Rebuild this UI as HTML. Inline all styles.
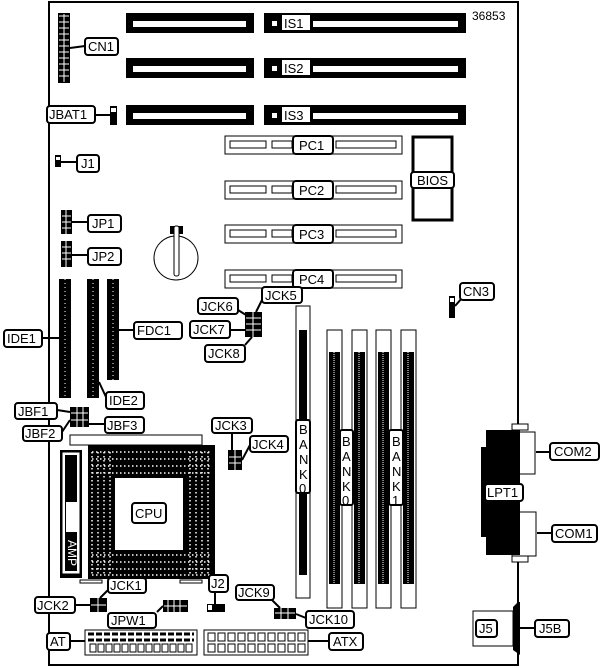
<!DOCTYPE html>
<html><head><meta charset="utf-8"><style>
html,body{margin:0;padding:0;background:#fff}
svg{display:block}
text{font-family:"Liberation Sans",sans-serif;font-size:13px;fill:#000}
.l{fill:#fff;stroke:#000;stroke-width:2}
.k{fill:#000}
.w{fill:#fff;stroke:#000;stroke-width:1}
.ln{stroke:#000;stroke-width:2;fill:none}
</style></head><body>
<svg width="604" height="668" viewBox="0 0 604 668" xmlns="http://www.w3.org/2000/svg">
<rect x="49" y="2" width="469" height="663" fill="none" stroke="#000" stroke-width="2"/>
<text x="472" y="20" style="font-size:12px">36853</text>

<!-- ISA slots -->
<g>
<rect class="k" x="126" y="13" width="128" height="20"/><rect fill="#fff" x="133" y="21" width="113" height="6"/>
<rect class="k" x="264" y="13" width="202" height="20"/><rect fill="#fff" x="272" y="21" width="5" height="5"/><rect fill="#fff" x="282" y="15" width="28" height="15"/><rect fill="#fff" x="313" y="21" width="145" height="6"/><text x="284" y="28">IS1</text>
<rect class="k" x="126" y="58" width="128" height="20"/><rect fill="#fff" x="133" y="66" width="113" height="6"/>
<rect class="k" x="264" y="58" width="202" height="20"/><rect fill="#fff" x="272" y="66" width="5" height="5"/><rect fill="#fff" x="282" y="60" width="28" height="15"/><rect fill="#fff" x="313" y="66" width="145" height="6"/><text x="284" y="73">IS2</text>
<rect class="k" x="126" y="105" width="128" height="20"/><rect fill="#fff" x="133" y="113" width="113" height="6"/>
<rect class="k" x="264" y="105" width="202" height="20"/><rect fill="#fff" x="272" y="113" width="5" height="5"/><rect fill="#fff" x="282" y="107" width="28" height="15"/><rect fill="#fff" x="313" y="113" width="145" height="6"/><text x="284" y="120">IS3</text>
</g>

<!-- PCI -->
<g>
<rect class="w" x="225" y="136" width="177" height="18"/><rect class="w" x="230" y="141" width="36" height="7"/><rect class="w" x="272" y="141" width="20" height="7"/><rect class="w" x="336" y="141" width="60" height="7"/><rect class="l" x="293" y="136" width="40" height="18" rx="3"/><text x="299" y="150">PC1</text>
<rect class="w" x="225" y="181" width="177" height="18"/><rect class="w" x="230" y="186" width="36" height="7"/><rect class="w" x="272" y="186" width="20" height="7"/><rect class="w" x="336" y="186" width="60" height="7"/><rect class="l" x="293" y="181" width="40" height="18" rx="3"/><text x="299" y="195">PC2</text>
<rect class="w" x="225" y="225" width="177" height="18"/><rect class="w" x="230" y="230" width="36" height="7"/><rect class="w" x="272" y="230" width="20" height="7"/><rect class="w" x="336" y="230" width="60" height="7"/><rect class="l" x="293" y="225" width="40" height="18" rx="3"/><text x="299" y="239">PC3</text>
<rect class="w" x="225" y="270" width="177" height="18"/><rect class="w" x="230" y="275" width="36" height="7"/><rect class="w" x="272" y="275" width="20" height="7"/><rect class="w" x="336" y="275" width="60" height="7"/><rect class="l" x="293" y="270" width="40" height="18" rx="3"/><text x="299" y="284">PC4</text>
</g>

<!-- BIOS -->
<rect x="413" y="137" width="39" height="83" fill="#fff" stroke="#000" stroke-width="3"/>
<rect class="l" x="411" y="172" width="43" height="16" rx="3"/><text x="417" y="185">BIOS</text>

<!-- CN1 -->
<rect class="k" x="58" y="13" width="12" height="70"/>
<path d="M59 16h10M59 22h10M59 28h10M59 34h10M59 40h10M59 46h10M59 52h10M59 58h10M59 64h10M59 70h10M59 76h10M64 14v68" stroke="#fff" stroke-width="1"/>
<path class="ln" d="M70 48 L85 46"/><rect class="l" x="85" y="38" width="33" height="17" rx="3"/><text x="88" y="51">CN1</text>
<!-- JBAT1 -->
<rect class="k" x="110" y="106" width="7" height="19"/><rect fill="#fff" x="111" y="108" width="5" height="4"/>
<path class="ln" d="M95 115 L110 115"/><rect class="l" x="47" y="106" width="48" height="17" rx="3"/><text x="49" y="119">JBAT1</text>
<!-- J1 -->
<rect class="k" x="55" y="155" width="6" height="12"/><rect fill="#fff" x="56" y="157" width="4" height="3"/>
<path class="ln" d="M61 162 L77 162"/><rect class="l" x="77" y="155" width="22" height="17" rx="3"/><text x="81" y="168">J1</text>
<!-- JP1/JP2 -->
<rect class="k" x="61" y="210" width="11" height="24"/><rect class="k" x="61" y="241" width="11" height="26"/>
<path d="M66 210v57M62 216h9M62 222h9M62 228h9M62 247h9M62 253h9M62 259h9" stroke="#fff" stroke-width="1"/>
<path class="ln" d="M72 222 L88 222 M72 255 L88 255"/>
<rect class="l" x="88" y="215" width="33" height="17" rx="3"/><text x="92" y="228">JP1</text>
<rect class="l" x="88" y="248" width="33" height="17" rx="3"/><text x="92" y="261">JP2</text>
<!-- battery -->
<circle cx="176" cy="258" r="22" fill="#fff" stroke="#000" stroke-width="1"/>
<rect class="k" x="170" y="226" width="13" height="8"/><rect class="w" x="174" y="226" width="5" height="50" rx="2"/>

<!-- IDE/FDC -->
<rect class="k" x="59" y="279" width="12" height="119"/>
<rect class="k" x="87" y="279" width="12" height="119"/>
<rect class="k" x="107" y="279" width="12" height="101"/>
<path d="M65 279v119M93 279v119M113 279v101" stroke="#fff" stroke-width="1" stroke-dasharray="1,3"/>
<path class="ln" d="M42 338 L59 338 M119 330 L134 330 M99 382 L106 397"/>
<rect class="l" x="4" y="330" width="38" height="17" rx="3"/><text x="7" y="343">IDE1</text>
<rect class="l" x="134" y="322" width="48" height="17" rx="3"/><text x="137" y="335">FDC1</text>
<rect class="l" x="106" y="392" width="38" height="17" rx="3"/><text x="109" y="405">IDE2</text>

<!-- JCK5-8 -->
<rect class="k" x="245" y="312" width="17" height="25"/>
<path d="M253 312v25M246 318h15M246 324h15M246 330h15" stroke="#fff" stroke-width="1"/>
<path class="ln" d="M238 310 L246 315 M230 330 L245 330 M245 345 L252 337 M262 300 L256 312"/>
<rect class="l" x="198" y="298" width="40" height="16" rx="3"/><text x="201" y="311">JCK6</text>
<rect class="l" x="190" y="321" width="40" height="17" rx="3"/><text x="193" y="334">JCK7</text>
<rect class="l" x="205" y="345" width="40" height="17" rx="3"/><text x="208" y="358">JCK8</text>
<rect class="l" x="262" y="287" width="40" height="16" rx="3"/><text x="265" y="300">JCK5</text>

<!-- DIMM BANK0 -->
<rect class="w" x="296" y="306" width="14" height="292"/><rect class="k" x="299" y="330" width="8" height="245"/>
<rect class="l" x="296" y="420" width="14" height="73" rx="2"/>
<text x="299" y="434">B</text><text x="299" y="449">A</text><text x="299" y="464">N</text><text x="299" y="479">K</text><text x="299" y="493">0</text>

<!-- SIMMs -->
<g>
<rect class="w" x="327" y="330" width="15" height="278"/><rect class="k" x="329" y="352" width="11" height="232"/>
<rect class="w" x="352" y="330" width="15" height="278"/><rect class="k" x="354" y="352" width="11" height="232"/>
<rect class="w" x="376" y="330" width="15" height="278"/><rect class="k" x="378" y="352" width="11" height="232"/>
<rect class="w" x="401" y="330" width="15" height="278"/><rect class="k" x="403" y="352" width="11" height="232"/>
<path d="M334 352v232M359 352v232M383 352v232M408 352v232" stroke="#fff" stroke-width="1" stroke-dasharray="1,1"/>
<rect class="l" x="340" y="430" width="13" height="75" rx="2"/>
<text x="342" y="446">B</text><text x="342" y="461">A</text><text x="342" y="476">N</text><text x="342" y="491">K</text><text x="342" y="505">0</text>
<rect class="l" x="389" y="430" width="14" height="75" rx="2"/>
<text x="392" y="446">B</text><text x="392" y="461">A</text><text x="392" y="476">N</text><text x="392" y="491">K</text><text x="392" y="505">1</text>
</g>

<!-- CN3 -->
<rect class="k" x="449" y="296" width="6" height="22"/><rect fill="#fff" x="450" y="298" width="4" height="4"/>
<path class="ln" d="M455 306 L462 298"/><rect class="l" x="460" y="283" width="34" height="17" rx="3"/><text x="463" y="296">CN3</text>

<!-- COM / LPT -->
<rect class="w" x="512" y="432" width="23" height="42"/>
<rect class="w" x="512" y="512" width="24" height="44"/>
<rect class="k" x="486" y="430" width="34" height="125"/>
<rect class="k" x="481" y="447" width="8" height="90"/>
<rect class="w" x="512" y="424" width="16" height="6"/><rect class="w" x="512" y="556" width="16" height="6"/>
<path class="ln" d="M536 452 L550 452 M537 533 L552 533"/>
<rect class="l" x="550" y="443" width="49" height="17" rx="3"/><text x="554" y="456">COM2</text>
<rect class="l" x="485" y="484" width="38" height="17" rx="3"/><text x="487" y="497">LPT1</text>
<rect class="l" x="552" y="525" width="45" height="17" rx="3"/><text x="555" y="538">COM1</text>

<!-- J5 -->
<rect class="w" x="473" y="611" width="40" height="35"/>
<path class="k" d="M513 607 L518 602 L520 602 L520 655 L513 650 Z"/>
<rect class="l" x="476" y="620" width="21" height="17" rx="3"/><text x="479" y="633">J5</text>
<path class="ln" d="M520 628 L535 628"/><rect class="l" x="535" y="620" width="34" height="17" rx="3"/><text x="539" y="633">J5B</text>

<!-- CPU -->
<rect class="w" x="70" y="435" width="132" height="10"/>
<rect class="k" x="88" y="445" width="127" height="134"/>
<rect fill="#fff" x="115" y="478" width="68" height="72"/>
<g stroke="#fff" stroke-width="1.5" stroke-dasharray="1.5,2.5">
<path d="M92 452h118M92 459h118M92 466h118M92 473h118M92 555h118M92 562h118M92 569h118M92 575h118"/>
<path d="M92 452v123M98 452v123M104 452v123M110 452v123M190 452v123M196 452v123M202 452v123M208 452v123"/>
</g>
<rect class="k" x="60" y="450" width="22" height="128"/>
<rect fill="#fff" x="63" y="453" width="16" height="120" stroke="#fff"/><rect class="k" x="65" y="455" width="12" height="116"/>
<rect fill="#fff" x="66" y="502" width="11" height="30"/>
<text transform="translate(68,540) rotate(90)" style="fill:#fff;font-size:12px">AMP</text>
<rect class="l" x="132" y="503" width="34" height="20" rx="3"/><text x="135" y="518">CPU</text>
<rect class="w" x="80" y="580" width="22" height="3"/><rect class="w" x="180" y="580" width="22" height="3"/>

<!-- JBF -->
<rect class="k" x="70" y="407" width="19" height="20"/>
<path d="M71 413h17M71 420h17M77 407v20M83 407v20" stroke="#fff" stroke-width="1"/>
<path class="ln" d="M57 410 L70 412 M62 432 L70 420 M89 424 L105 424"/>
<rect class="l" x="15" y="403" width="42" height="16" rx="3"/><text x="18" y="416">JBF1</text>
<rect class="l" x="23" y="426" width="39" height="15" rx="3"/><text x="25" y="438">JBF2</text>
<rect class="l" x="105" y="417" width="39" height="16" rx="3"/><text x="107" y="430">JBF3</text>

<!-- JCK3/4 -->
<rect class="k" x="228" y="450" width="14" height="20"/>
<path d="M235 450v20M229 457h12M229 463h12" stroke="#fff" stroke-width="1"/>
<path class="ln" d="M232 432 L232 450 M250 445 L242 460"/>
<rect class="l" x="212" y="418" width="40" height="15" rx="3"/><text x="215" y="430">JCK3</text>
<rect class="l" x="250" y="436" width="38" height="16" rx="3"/><text x="252" y="449">JCK4</text>

<!-- JCK1/2, JPW1, J2 -->
<rect class="k" x="90" y="598" width="17" height="14"/>
<path d="M98 598v14M91 605h15" stroke="#fff" stroke-width="1"/>
<path class="ln" d="M108 590 L100 598 M75 605 L90 605 M157 612 L163 606 M215 592 L215 604"/>
<rect class="l" x="108" y="578" width="38" height="15" rx="3"/><text x="110" y="590">JCK1</text>
<rect class="l" x="35" y="597" width="40" height="16" rx="3"/><text x="37" y="610">JCK2</text>
<rect class="k" x="163" y="600" width="25" height="12"/>
<path d="M168 600v12M174 600v12M180 600v12M164 606h23" stroke="#fff" stroke-width="1"/>
<rect class="l" x="108" y="613" width="48" height="15" rx="3"/><text x="111" y="625">JPW1</text>
<rect class="k" x="207" y="604" width="18" height="8"/><rect fill="#fff" x="208" y="605" width="4" height="5"/>
<rect class="l" x="209" y="575" width="19" height="17" rx="3"/><text x="211" y="588">J2</text>

<!-- JCK9/10 -->
<rect class="k" x="274" y="608" width="22" height="11"/>
<path d="M281 608v11M288 608v11M275 613h20" stroke="#fff" stroke-width="1"/>
<path class="ln" d="M270 598 L280 608 M296 614 L306 618"/>
<rect class="l" x="236" y="585" width="38" height="15" rx="3"/><text x="238" y="597">JCK9</text>
<rect class="l" x="306" y="611" width="48" height="17" rx="3"/><text x="309" y="624">JCK10</text>

<!-- AT / ATX -->
<rect class="w" x="85" y="630" width="112" height="25"/>
<path d="M88 634h106M88 640h106" stroke="#000" stroke-width="3" stroke-dasharray="6,2"/>
<path d="M90 644h100" stroke="#000" stroke-width="8" stroke-dasharray="6,2" opacity="0"/>
<g fill="none" stroke="#000" stroke-width="1">
<rect x="90" y="644" width="6" height="8"/><rect x="98" y="644" width="6" height="8"/><rect x="106" y="644" width="6" height="8"/><rect x="114" y="644" width="6" height="8"/><rect x="122" y="644" width="6" height="8"/><rect x="130" y="644" width="6" height="8"/><rect x="138" y="644" width="6" height="8"/><rect x="146" y="644" width="6" height="8"/><rect x="154" y="644" width="6" height="8"/><rect x="162" y="644" width="6" height="8"/><rect x="170" y="644" width="6" height="8"/><rect x="178" y="644" width="6" height="8"/><rect x="186" y="644" width="6" height="8"/>
</g>
<path class="ln" d="M70 641 L85 641"/><rect class="l" x="47" y="633" width="23" height="17" rx="3"/><text x="50" y="646">AT</text>
<rect class="w" x="204" y="630" width="104" height="25"/>
<g fill="none" stroke="#000" stroke-width="1">
<rect x="208" y="633" width="7" height="8"/><rect x="218" y="633" width="7" height="8"/><rect x="228" y="633" width="7" height="8"/><rect x="238" y="633" width="7" height="8"/><rect x="248" y="633" width="7" height="8"/><rect x="258" y="633" width="7" height="8"/><rect x="268" y="633" width="7" height="8"/><rect x="278" y="633" width="7" height="8"/><rect x="288" y="633" width="7" height="8"/><rect x="298" y="633" width="7" height="8"/>
<rect x="208" y="644" width="7" height="8"/><rect x="218" y="644" width="7" height="8"/><rect x="228" y="644" width="7" height="8"/><rect x="238" y="644" width="7" height="8"/><rect x="248" y="644" width="7" height="8"/><rect x="258" y="644" width="7" height="8"/><rect x="268" y="644" width="7" height="8"/><rect x="278" y="644" width="7" height="8"/><rect x="288" y="644" width="7" height="8"/><rect x="298" y="644" width="7" height="8"/>
</g>
<path class="ln" d="M308 641 L329 641"/><rect class="l" x="329" y="633" width="34" height="17" rx="3"/><text x="333" y="646">ATX</text>
</svg>
</body></html>
